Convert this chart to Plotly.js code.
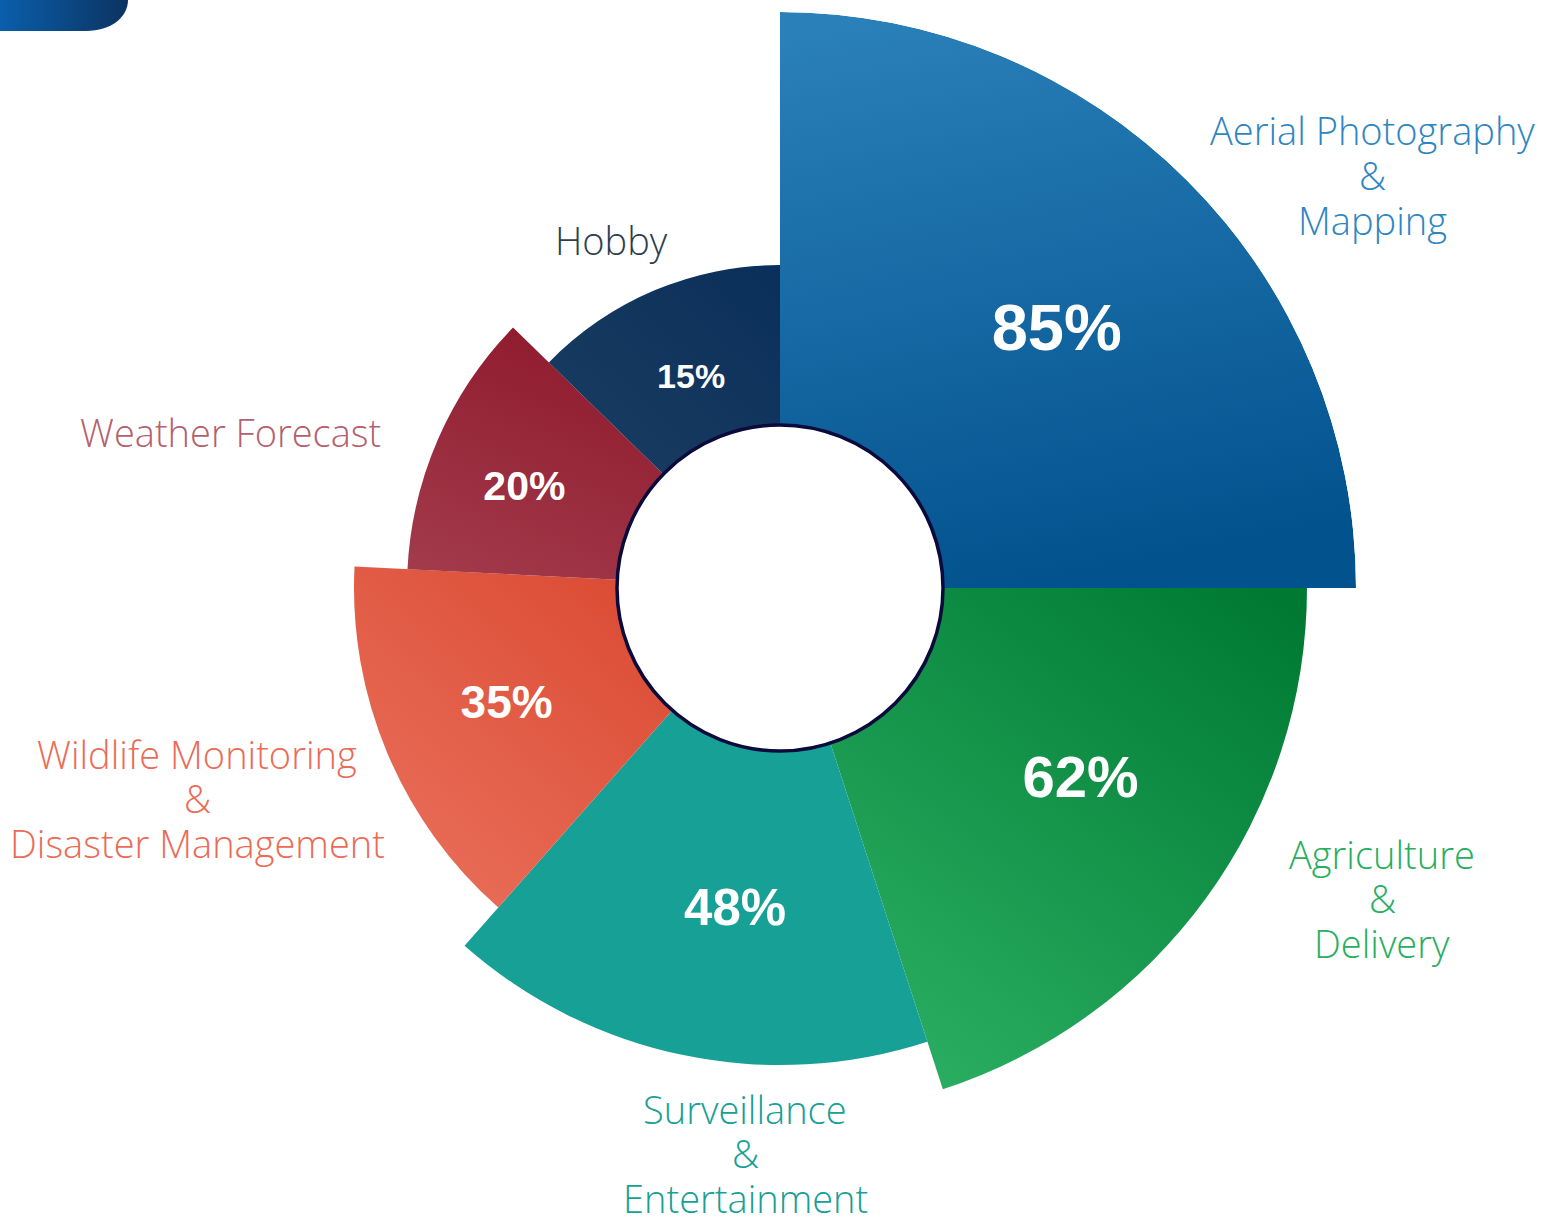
<!DOCTYPE html>
<html>
<head>
<meta charset="utf-8">
<script src="https://cdn.plot.ly/plotly-3.0.1.min.js"></script>
<style>
html,body{margin:0;padding:0;background:#fff;}
#chart{width:1545px;height:1216px;}
</style>
</head>
<body>
<div id="chart"></div>
<script>
// ---- data ----
const categories = ["Aerial Photography & Mapping", "Agriculture & Delivery", "Surveillance & Entertainment",
                    "Wildlife Monitoring & Disaster Management", "Weather Forecast", "Hobby"];
const shares = [85, 62, 48, 35, 20, 15];               // percentage shown in each slice
const reach = [413, 364, 314, 263, 210, 160];          // radial length of each slice (beyond the hole)
const spanDeg = [90, 72, 59.4, 51.5, 41.4, 45.7];      // angular width of each slice, clockwise from top

// ---- styles ----
const W = 1545, H = 1216;
const CX = 780, CY = 588, R = 576, HOLE_R = 163;
const labelColors = ["#2e86c1", "#27ae60", "#17a096", "#eb6b56", "#b5606e", "#2c3e50"];
const barColors = ["#1468a4", "#139345", "#17a096", "#e25c45", "#982a3c", "#13365c"];
const gradStops = [
  [["#2a80b9", "#02528e"], [0.2, 0, 0.4, 1]],
  [["#007a33", "#2aae62"], [0.9, 0, 0.2, 1]],
  [["#17a096", "#17a096"], [0, 0, 0, 1]],
  [["#da4830", "#e96f5a"], [1, 0, 0.2, 1]],
  [["#901a2e", "#a13a4b"], [0.6, 0, 0.2, 1]],
  [["#0a2f5a", "#1b3d61"], [1, 0, 0, 1]]
];
const pctSizes = [65, 58, 51, 46, 41, 34];
// where the percentage sits: angular shift from the slice centre, and radial position beyond the hole
const pctShiftDeg = [2.4, -3.1, -3.8, -0.6, -2.5, -0.2];
const pctRadial = [213, 195, 164, 135, 111, 64];
// centre of each outside label (middle line), and the spacing of its lines
const labelPos = [[1372, 175], [1382, 898], [745, 1153], [197, 798], [230, 432], [611, 240]];
const LINE_GAP = 44.5;
const LABEL_SIZE = 38;

// slice centres (clockwise from the top)
const thetaCenters = [];
let acc = 0;
spanDeg.forEach(w => { thetaCenters.push(acc + w / 2); acc += w; });

const px = x => x / W, py = y => 1 - y / H;
const maxReach = Math.max(...reach);

const bars = {
  type: "barpolar",
  r: reach,
  theta: thetaCenters,
  width: spanDeg,
  marker: {color: barColors, line: {width: 0}},
  hoverinfo: "skip",
  showlegend: false
};

const pctText = {
  type: "scatterpolar",
  mode: "text",
  r: pctRadial,
  theta: thetaCenters.map((t, i) => t + pctShiftDeg[i]),
  text: shares.map(v => v + "%"),
  textfont: {family: "Liberation Sans, Arial, sans-serif", size: pctSizes, color: "#ffffff", weight: 700},
  textposition: "middle center",
  cliponaxis: false,
  hoverinfo: "skip",
  showlegend: false
};

const annotations = [];
categories.forEach((c, i) => {
  const parts = c.split(" & ");
  const lines = parts.length > 1 ? [parts[0], "&", parts[1]] : [c];
  const mid = (lines.length - 1) / 2;
  lines.forEach((ln, k) => {
    const ann = {
      xref: "paper", yref: "paper",
      x: px(labelPos[i][0]), y: py(labelPos[i][1] + (k - mid) * LINE_GAP),
      xanchor: "center", yanchor: "middle",
      text: ln,
      showarrow: false,
      font: {family: "'Open Sans', Lato, sans-serif", size: LABEL_SIZE, color: labelColors[i], weight: 300}
    };
    // lines without descenders get a tighter text box
    if (ln === "&") ann.height = 32;
    else if (lines.length > 1 && !/[gjpqy]/.test(ln)) ann.height = 34;
    annotations.push(ann);
  });
});

const cornerPath = `M ${px(-5)},${py(-5)} L ${px(128)},${py(-5)} L ${px(128)},${py(0)} C ${px(128)},${py(17)} ${px(111)},${py(31)} ${px(86)},${py(31)} L ${px(-5)},${py(31)} Z`;

const shapes = [
  {type: "path", xref: "paper", yref: "paper", path: cornerPath, fillcolor: "#0b4a8a", line: {width: 0}, layer: "above"},
  {type: "circle", xref: "paper", yref: "paper",
   x0: px(CX - HOLE_R), x1: px(CX + HOLE_R), y0: py(CY + HOLE_R), y1: py(CY - HOLE_R),
   fillcolor: "#ffffff", line: {color: "#0a0a3c", width: 3.5}, layer: "above"}
];

const layout = {
  width: W, height: H,
  margin: {l: 0, r: 0, t: 0, b: 0},
  paper_bgcolor: "#ffffff",
  showlegend: false,
  polar: {
    domain: {x: [px(CX - R), px(CX + R)], y: [py(CY + R), py(CY - R)]},
    hole: HOLE_R / R,
    bgcolor: "rgba(0,0,0,0)",
    bargap: 0,
    radialaxis: {range: [0, maxReach], visible: false, showgrid: false, showline: false, showticklabels: false, ticks: ""},
    angularaxis: {direction: "clockwise", rotation: 90, visible: false, showgrid: false, showline: false, showticklabels: false, ticks: ""}
  },
  annotations: annotations,
  shapes: shapes
};

Plotly.newPlot("chart", [bars, pctText], layout, {displayModeBar: false, staticPlot: true}).then(gd => {
  const NS = "http://www.w3.org/2000/svg";
  const svg = gd.querySelector("svg.main-svg");
  let defs = svg.querySelector("defs");
  if (!defs) { defs = document.createElementNS(NS, "defs"); svg.insertBefore(defs, svg.firstChild); }
  const mk = (id, cols, v) => {
    const g = document.createElementNS(NS, "linearGradient");
    g.setAttribute("id", id);
    g.setAttribute("x1", v[0]); g.setAttribute("y1", v[1]); g.setAttribute("x2", v[2]); g.setAttribute("y2", v[3]);
    cols.forEach((c, k) => {
      const s = document.createElementNS(NS, "stop");
      s.setAttribute("offset", k / (cols.length - 1));
      s.setAttribute("stop-color", c);
      g.appendChild(s);
    });
    defs.appendChild(g);
  };
  gradStops.forEach((gs, i) => mk("barGrad" + i, gs[0], gs[1]));
  mk("cornerGrad", ["#0a60ae", "#0c3361"], [0, 0, 1, 0]);
  const paths = gd.querySelectorAll(".barlayer g.point path");
  paths.forEach((p, i) => { if (i < gradStops.length) p.style.fill = "url(#barGrad" + i + ")"; });
  const sp = gd.querySelectorAll(".shapelayer path");
  if (sp.length) sp[0].style.fill = "url(#cornerGrad)";
});
</script>
</body>
</html>
